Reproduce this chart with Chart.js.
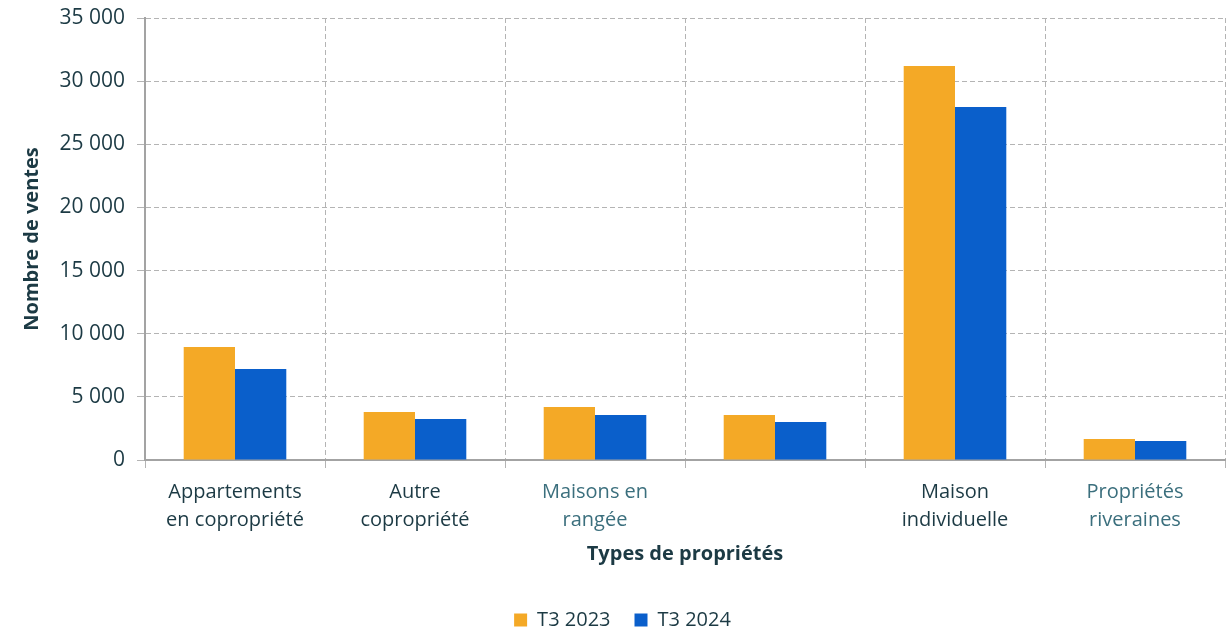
<!DOCTYPE html>
<html>
<head>
<meta charset="utf-8">
<script src="https://cdn.jsdelivr.net/npm/chart.js@4"></script>
<style>
  html, body { margin: 0; padding: 0; background: #fff; }
  #wrap { width: 1231px; height: 633px; }
</style>
</head>
<body>
<div id="wrap"><canvas id="ventesChart" width="1231" height="633"></canvas></div>
<script>
// categories (multi-line labels), one left empty as in the source
const categories = [
    ['Appartements', 'en copropriété'],
    ['Autre', 'copropriété'],
    ['Maisons en', 'rangée'],
    '',
    ['Maison', 'individuelle'],
    ['Propriétés', 'riveraines']
];
const ventesT3_2023 = [8950, 3800, 4200, 3560, 31200, 1660];
const ventesT3_2024 = [7200, 3250, 3560, 3000, 27950, 1500];
const yTicks = [0, 5000, 10000, 15000, 20000, 25000, 30000, 35000];
const labelColors = ['#1c3a44', '#1c3a44', '#3b6f7d', '#1c3a44', '#1c3a44', '#3b6f7d'];

function formatNombre(v) {
    return String(v).replace(/\B(?=(\d{3})+(?!\d))/g, ' ');
}

const ctx = document.getElementById('ventesChart').getContext('2d');
new Chart(ctx, {
    type: 'bar',
    data: {
        labels: categories,
        datasets: [{
            label: 'T3 2023',
            data: ventesT3_2023,
            backgroundColor: '#F4A926',
            borderWidth: 0
        }, {
            label: 'T3 2024',
            data: ventesT3_2024,
            backgroundColor: '#0A5FCB',
            borderWidth: 0
        }]
    },
    options: {
        responsive: false,
        animation: false,
        layout: { padding: { left: 20, right: 6, top: 18, bottom: -7 } },
        datasets: {
            bar: { categoryPercentage: 0.57, barPercentage: 1.0 }
        },
        plugins: {
            tooltip: { enabled: false },
            legend: {
                position: 'bottom',
                labels: {
                    font: { family: 'Open Sans', size: 20 },
                    color: '#1c3a44',
                    boxWidth: 13,
                    boxHeight: 13,
                    padding: 24
                }
            }
        },
        scales: {
            x: {
                afterFit: axis => { axis.height = 126; },
                grid: { color: '#b4b4b4', lineWidth: 1, drawTicks: true, tickLength: 8, offset: true },
                border: { display: true, color: '#a3a3a3', width: 2, dash: [5, 3] },
                ticks: {
                    font: { family: 'Open Sans', size: 20, lineHeight: 1.4 },
                    color: c => labelColors[c.index],
                    padding: 10,
                    maxRotation: 0,
                    autoSkip: false
                },
                title: {
                    display: true,
                    text: 'Types de propriétés',
                    font: { family: 'Open Sans', size: 20, weight: 'bold' },
                    color: '#1c3a44',
                    padding: { top: 0, bottom: 20 }
                }
            },
            y: {
                min: 0,
                max: 35000,
                afterBuildTicks: axis => { axis.ticks = yTicks.map(v => ({ value: v })); },
                afterFit: axis => { axis.width = 125; axis.paddingTop = 0; },
                grid: { color: '#b4b4b4', lineWidth: 1, drawTicks: true, tickLength: 8 },
                border: { display: true, color: '#a3a3a3', width: 2, dash: [5, 3] },
                ticks: {
                    font: { family: 'Open Sans', size: 21 },
                    color: '#1c3a44',
                    padding: 12,
                    callback: v => formatNombre(v)
                },
                title: {
                    display: true,
                    text: 'Nombre de ventes',
                    font: { family: 'Open Sans', size: 20, weight: 'bold' },
                    color: '#1c3a44',
                    padding: { top: 0, bottom: 0 }
                }
            }
        }
    }
});
</script>
</body>
</html>
